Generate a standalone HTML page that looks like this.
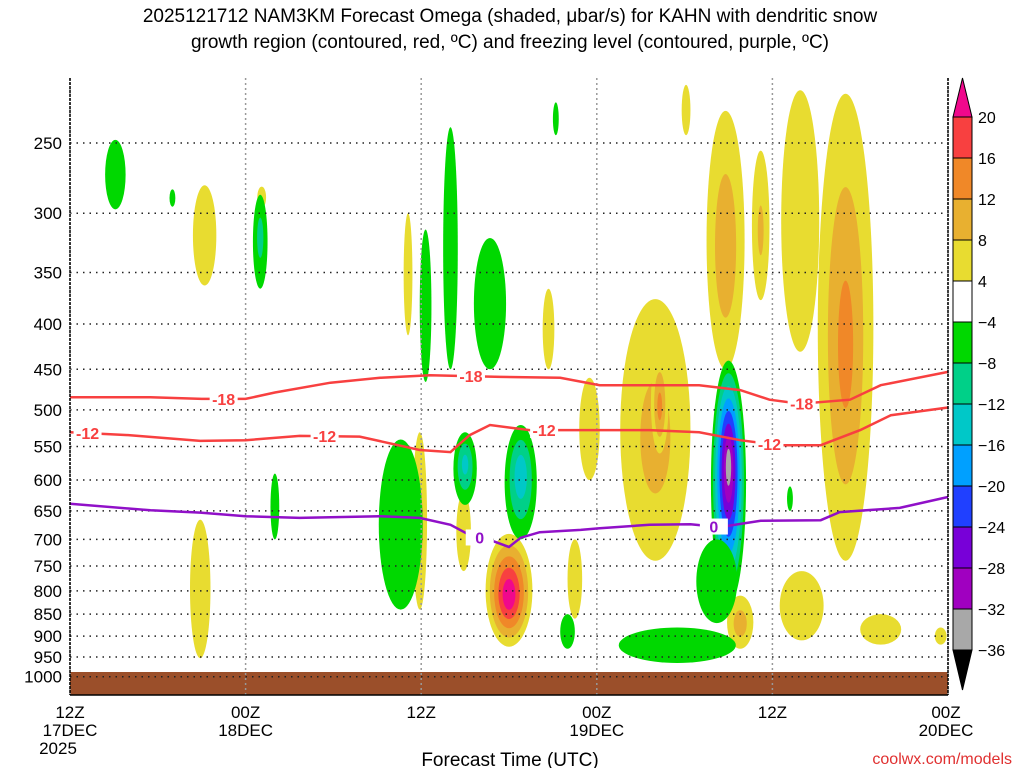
<!DOCTYPE html>
<html><head><meta charset="utf-8"><style>
html,body{margin:0;padding:0;background:#fff;}
svg{display:block;font-family:"Liberation Sans",sans-serif;}
</style></head><body>
<svg id="chart" width="1024" height="768" viewBox="0 0 1024 768">
<text x="510" y="22" text-anchor="middle" font-size="19" fill="#000">2025121712 NAM3KM Forecast Omega (shaded, μbar/s) for KAHN with dendritic snow</text>
<text x="510" y="48" text-anchor="middle" font-size="19" fill="#000">growth region (contoured, red, ºC) and freezing level (contoured, purple, ºC)</text>
<g id="shade"></g>
<g id="grid"></g>
<g id="lines"></g>
<g id="axes"></g>
<g id="cbar"></g>
<text x="510" y="766" text-anchor="middle" font-size="19" fill="#000">Forecast Time (UTC)</text>
<text x="1012" y="764" text-anchor="end" font-size="16" fill="#e03030">coolwx.com/models</text>
</svg>
<script>
// ---- data ----
const pressureTicks = [250,300,350,400,450,500,550,600,650,700,750,800,850,900,950,1000];
const timeTickHours = [0,12,24,36,48,60];
const timeTickLabels = [["12Z","17DEC","2025"],["00Z","18DEC"],["12Z"],["00Z","19DEC"],["12Z"],["00Z","20DEC"]];
const levelValues = [20,16,12,8,4,-4,-8,-12,-16,-20,-24,-28,-32,-36];
const levelColors = ["#f0088c","#f84040","#f08828","#e8b030","#e8dc30","#ffffff","#00d800","#00d088","#00c8c8","#00a0ff","#2040ff","#7800d8","#a000c0","#a8a8a8","#000000"];
// blobs: [centerHour, topPressure, bottomPressure, halfWidthHours, peakOmega]
const omegaBlobs = [
 [9.2,279,362,0.8,6],[8.9,665,953,0.7,7],[23.1,300,412,0.3,5],[23.9,530,840,0.5,9],
 [30,690,925,1.6,24],[32.7,365,450,0.4,5],[35.5,460,600,0.7,6],[40,375,740,2.4,9],
 [40.3,430,560,0.6,13],[44.8,230,450,1.3,11],[47.2,255,376,0.6,8],[49.9,218,430,1.3,6],
 [53,220,740,1.9,13],[45.8,810,930,0.9,10],[50,760,910,1.5,7],[55.4,850,920,1.4,5],
 [42.1,215,245,0.3,5],[13.1,280,296,0.3,5],[26.9,620,760,0.5,7],[59.5,880,920,0.4,5],
 [34.5,700,860,0.5,5],[3.1,248,297,0.7,-7],[13,286,365,0.5,-9],[26,240,450,0.5,-6],
 [24.3,313,465,0.4,-6],[28.7,320,450,1.1,-7],[22.6,540,840,1.5,-6],[27,530,640,0.8,-13],
 [30.8,520,700,1.1,-15],[45,440,830,1.2,-35],[41.5,880,965,4,-5],[44.2,700,870,1.4,-6],
 [14,590,700,0.3,-6],[33.2,225,245,0.2,-6],[34,850,930,0.5,-6],[49.2,610,650,0.2,-6],
 [7,282,295,0.2,-6]
];
const m18Hours = [0,5.5,9,12,14,17.8,21.2,24.6,29.4,33.5,36.2,39.6,43,45.8,47.8,49.9,53.3,55.4,60];
const m18Press = [484,484,486,486,478,466,460,457,459,460,469,469,469,475,487,492,487,469,453];
const m12Hours = [0,4.1,8.9,12,15.7,19.8,23.9,26,27.3,28.7,31.4,36.2,39.6,43,45.8,48.5,51.3,54,56.1,60];
const m12Press = [530,534,542,541,535,536,555,558,534,520,527,527,527,530,541,548,548,527,507,497];
const frzHours = [0,5.5,8.9,12,15.7,21.2,23.9,26,27.3,28.7,30,30.8,32.1,34.9,36.2,39.6,42.4,44.4,47.2,51.3,52.6,56.7,60];
const frzPress = [638,649,653,659,662,659,662,674,692,701,714,697,687,683,680,674,673,678,667,666,652,645,627];
// ---- scales ----
const X0=70,X1=948,Y0=78,Y1=695;
const xs=h=>X0+(X1-X0)*h/60;
const ys=p=>143+385*Math.log(p/250);
const NS="http://www.w3.org/2000/svg";
function mk(tag,attrs,parent){const e=document.createElementNS(NS,tag);for(const k in attrs)e.setAttribute(k,attrs[k]);parent.appendChild(e);return e;}
const shade=document.getElementById('shade');
function colorFor(t,neg){const i=levelValues.indexOf(neg?-t:t);return neg?levelColors[i+1]:levelColors[i];}
// blobs
omegaBlobs.forEach(b=>{
 const [h,pt,pb,hw,v]=b;const neg=v<0;const a=Math.abs(v);
 const cx=xs(h),yt=ys(pt),yb=ys(pb),cy=(yt+yb)/2,ry=(yb-yt)/2,rx=hw*(X1-X0)/60;
 const maxT=neg?36:20;
 for(let t=4;t<=a&&t<=maxT;t+=4){
  const s=Math.max(0.12,1-(t-4)/(a-2));
  const e=mk('ellipse',{cx:cx,cy:cy+(neg?-ry*0.15*(1-s):ry*0.1*(1-s)),rx:rx*s,ry:ry*s,fill:colorFor(t,neg)},shade);
  
  
 }
});
// ground
const g=mk('rect',{x:X0,y:672,width:X1-X0,height:Y1-672,fill:'#9b4f2a'},shade);

// grid
const grid=document.getElementById('grid');
pressureTicks.forEach(p=>{const l=mk('line',{x1:X0,x2:X1,y1:ys(p),y2:ys(p),stroke:'#222','stroke-dasharray':'1.5 5','stroke-width':1.5},grid);
 });
timeTickHours.forEach(h=>{const l=mk('line',{x1:xs(h),x2:xs(h),y1:Y0,y2:Y1,stroke:'#999','stroke-dasharray':'2 3','stroke-width':1.5},grid);
 });
// contour lines
const lines=document.getElementById('lines');
function drawLine(hrs,prs,color,name,labels){
 const d=hrs.map((h,i)=>(i?'L':'M')+xs(h).toFixed(1)+','+ys(prs[i]).toFixed(1)).join(' ');
 const p=mk('path',{d:d,fill:'none',stroke:color,'stroke-width':2.5},lines);
 
 labels.forEach(([h,txt])=>{
  let i=0;while(i<hrs.length-2&&hrs[i+1]<h)i++;
  const f=(h-hrs[i])/(hrs[i+1]-hrs[i]);const pr=prs[i]+(prs[i+1]-prs[i])*f;
  const x=xs(h),y=ys(pr);
  const r=mk('rect',{x:x-14,y:y-8,width:28,height:16,fill:'#fff'},lines);
  
  const t=mk('text',{x:x,y:y+6,'text-anchor':'middle','font-size':16,'font-weight':'bold',fill:color},lines);
  t.textContent=txt;
 });
}
drawLine(m18Hours,m18Press,'#f84040','contour-minus18',[[10.5,'-18'],[27.4,'-18'],[50,'-18']]);
drawLine(m12Hours,m12Press,'#f84040','contour-minus12',[[1.2,'-12'],[17.4,'-12'],[32.4,'-12'],[47.8,'-12']]);
drawLine(frzHours,frzPress,'#9010c8','freezing-level',[[28,'0'],[44,'0']]);
// axes
const ax=document.getElementById('axes');
mk('line',{x1:X0,x2:X0,y1:Y0,y2:Y1,stroke:'#000','stroke-width':1.5,'stroke-dasharray':'3 1'},ax);
mk('line',{x1:X1,x2:X1,y1:Y0,y2:Y1,stroke:'#000','stroke-width':1.5,'stroke-dasharray':'3 1'},ax);
mk('line',{x1:X0,x2:X1,y1:Y1,y2:Y1,stroke:'#000','stroke-width':1.5},ax);
pressureTicks.forEach(p=>{const t=mk('text',{x:62,y:ys(p)+6,'text-anchor':'end','font-size':17,fill:'#000'},ax);
 t.textContent=p;});
timeTickHours.forEach((h,i)=>{timeTickLabels[i].forEach((s,j)=>{
 const t=mk('text',{x:i===0?X0-14:(i===5?X1:xs(h)),y:718+j*18,'text-anchor':i===0?'start':'middle','font-size':17,fill:'#000'},ax);
 if(i===5){t.setAttribute('text-anchor','middle');t.setAttribute('x',X1-2);}
 if(i===0){t.setAttribute('text-anchor','middle');t.setAttribute('x',X0+(j===2?-12:0));}
 t.textContent=s;});});
// colorbar
const cb=document.getElementById('cbar');
const cx0=953,cw=19,cTop=117,step=41;
levelColors.forEach((c,i)=>{
 let e;
 if(i===0)e=mk('polygon',{points:`${cx0},${cTop} ${cx0+cw},${cTop} ${cx0+cw/2},78`,fill:c,stroke:'#000'},cb);
 else if(i===levelColors.length-1){const yb=cTop+step*13;e=mk('polygon',{points:`${cx0},${yb} ${cx0+cw},${yb} ${cx0+cw/2},690`,fill:c,stroke:'#000'},cb);}
 else e=mk('rect',{x:cx0,y:cTop+step*(i-1),width:cw,height:step,fill:c,stroke:'#000'},cb);
 
});
levelValues.forEach((v,i)=>{const t=mk('text',{x:978,y:cTop+step*i+6,'font-size':16,fill:'#000'},cb);
 t.textContent=v<0?'\u2212'+(-v):v;});
</script>
</body></html>
